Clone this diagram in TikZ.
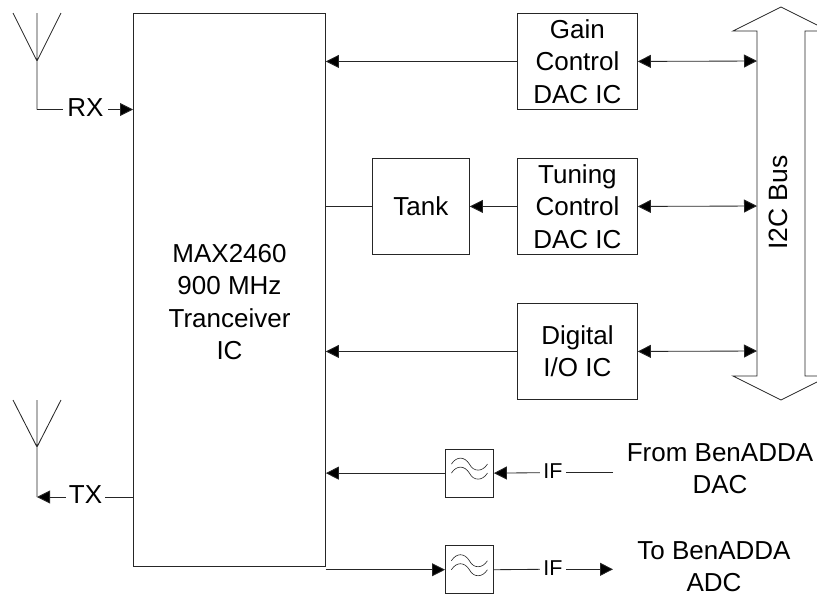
\documentclass[tikz,border=0pt]{standalone}
\usepackage{fontspec}
\setmainfont{Liberation Sans}
\usetikzlibrary{arrows.meta,calc}
\tikzset{
  x=1pt,y=-1pt,
  ln/.style={line width=0.85pt,draw=black!85},
  arr/.style={ln,-{Triangle[length=13pt,width=13pt,fill=black]}},
  darr/.style={ln,{Triangle[length=13pt,width=13pt,fill=black]}-{Triangle[length=13pt,width=13pt,fill=black]}},
  boxb/.style={draw=black!85,line width=0.85pt,fill=white,inner sep=0pt,align=center,font=\fontsize{26}{32.3}\selectfont},
  lab/.style={inner sep=0pt,align=center,font=\fontsize{26}{32.3}\selectfont},
  iflab/.style={inner ysep=0pt,inner xsep=3.5pt,font=\fontsize{21.5}{24}\selectfont},
  endlab/.style={inner sep=0pt,align=center,font=\fontsize{26}{32}\selectfont},
  glyph/.style={line width=0.6pt,draw=black!85},
}
\newcommand{\blockat}[6]{\node[boxb,minimum width=#4pt,minimum height=#5pt,anchor=north west] (#1) at (#2,#3) {#6};}
\begin{document}
\begin{tikzpicture}
\useasboundingbox (0,0) rectangle (817,598);
% blocks
\blockat{main}{133}{13}{192}{553}{}
\node[lab] (maintext) at (229.5,302) {MAX2460\\900 MHz\\Tranceiver\\IC};
\blockat{gain}{517}{13}{120}{96}{Gain\\Control\\DAC IC}
\blockat{tune}{517}{158}{120}{96}{Tuning\\Control\\DAC IC}
\blockat{tank}{372}{158}{97}{96}{Tank}
\blockat{dig}{517}{303}{120}{96}{Digital\\I/O IC}
\blockat{fa}{445}{448.7}{48}{48}{}
\blockat{fb}{445}{545.3}{48}{48}{}
% filter glyphs
\foreach \f in {fa,fb}{
  \foreach \d in {-9,0}{
    \draw[glyph] ($(\f.center)+(-18,\d)$) .. controls +(5,-8) and +(-5,-8) .. ($(\f.center)+(0,\d)$) .. controls +(4,8) and +(-5,8) .. ($(\f.center)+(18,\d)$);
  }
}
% bus
\draw[ln] (757,376) -- (757,31) -- (733,31) -- (781,7) -- (829,31) -- (805,31) -- (805,376) -- (829,376) -- (781,400) -- (733,376) -- cycle;
\node[rotate=90,inner sep=0pt,font=\fontsize{26.5}{28}\selectfont] (busl) at (778.5,202.5) {I2C Bus};
\coordinate (bg) at (757,61);
\coordinate (bt) at (757,206);
\coordinate (bd) at (757,351);
% right-side connectors
\draw[arr] (gain.west) -- (main.east |- gain.west);
\draw[darr] (gain.east) -- (bg);
\draw[darr] (tune.east) -- (bt);
\draw[darr] (dig.east) -- (bd);
\draw[arr] (tune.west) -- (tank.east);
\draw[ln] (tank.west) -- (main.east |- tank.west);
\draw[arr] (dig.west) -- (main.east |- dig.west);
% antennas
\coordinate (ra) at (37,61);
\coordinate (rt) at (37,13);
\coordinate (rl) at (13,13);
\coordinate (rr) at (61,13);
\coordinate (rc) at (37,109.5);
\draw[ln] (rt) -- (ra) (rl) -- (ra) -- (rr) (ra) -- (rc);
\node[lab,inner xsep=4.5pt] (rx) at (85.5,108) {RX};
\draw[ln] (rc) -- (rc -| rx.west);
\draw[arr] (rc -| rx.east) -- (rc -| main.west);
\coordinate (ta) at (37,447);
\coordinate (tt) at (37,400);
\coordinate (tl) at (13,400);
\coordinate (tr) at (61,400);
\coordinate (tc) at (37,497);
\draw[ln] (tt) -- (ta) (tl) -- (ta) -- (tr) (ta) -- (tc);
\node[lab,inner xsep=3pt] (tx) at (85.5,495) {TX};
\draw[ln] (tc -| main.west) -- (tc -| tx.east);
\draw[arr] (tc -| tx.west) -- (tc);
% IF paths
\node[endlab] (from) at (720,468.5) {From BenADDA\\DAC};
\node[endlab] (to) at (714,567) {To BenADDA\\ADC};
\node[iflab] (ifa) at (553,471) {IF};
\node[iflab] (ifb) at (553,568) {IF};
\coordinate (fe) at (613,472.7);
\coordinate (te) at (613,569.3);
\draw[ln] (fe) -- (fe -| ifa.east);
\draw[arr] (fe -| ifa.west) -- (fa.east);
\draw[arr] (fa.west) -- (main.east |- fa.west);
\draw[arr] (main.east |- fb.west) -- (fb.west);
\draw[ln] (fb.east) -- (te -| ifb.west);
\draw[arr] (te -| ifb.east) -- (te);
\end{tikzpicture}
\end{document}
